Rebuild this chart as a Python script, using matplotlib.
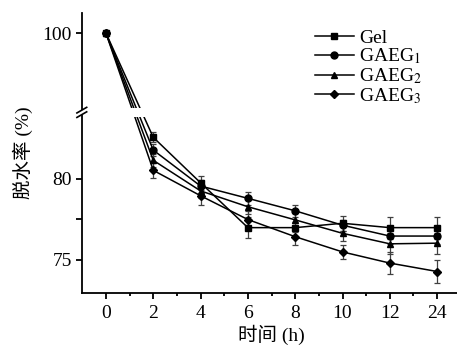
import numpy as np
import matplotlib
matplotlib.use("Agg")
import matplotlib.pyplot as plt
from matplotlib.patches import Rectangle
from matplotlib.lines import Line2D

plt.rcParams['font.family'] = ['Liberation Serif', 'Noto Sans CJK SC']
plt.rcParams['mathtext.fontset'] = 'stix'

# data
times = ['0', '2', '4', '6', '8', '10', '12', '24']
gel = [100, 82.56, 79.75, 76.98, 76.98, 77.25, 76.98, 76.98]
gaeg1 = [100, 81.77, 79.55, 78.79, 78.02, 77.13, 76.46, 76.46]
gaeg2 = [100, 81.14, 79.25, 78.27, 77.46, 76.63, 75.98, 76.02]
gaeg3 = [100, 80.52, 78.95, 77.48, 76.42, 75.48, 74.79, 74.27]
gel_err = [0, 0.3, 0.45, 0.65, 0.3, 0.45, 0.68, 0.68]
gaeg1_err = [0, 0.35, 0.4, 0.4, 0.37, 0.35, 0.5, 0.5]
gaeg2_err = [0, 0.4, 0.45, 0.45, 0.4, 0.45, 0.65, 0.65]
gaeg3_err = [0, 0.47, 0.55, 0.5, 0.52, 0.44, 0.67, 0.68]

labels = ['Gel', 'GAEG$_{1}$', 'GAEG$_{2}$', 'GAEG$_{3}$']
markers = ['s', 'o', '^', 'D']

# broken y axis: skip 84..95
lo_cut, hi_cut = 84.0, 95.0
shift = hi_cut - lo_cut

def fwd(y):
    y = np.asarray(y, dtype=float)
    return np.where(y <= lo_cut, y, np.where(y >= hi_cut, y - shift, lo_cut))

def inv(t):
    t = np.asarray(t, dtype=float)
    return np.where(t <= lo_cut, t, t + shift)

fig = plt.figure(figsize=(4.57, 3.47), dpi=100)
ax = fig.add_axes([0.179, 0.156, 0.821, 0.807])
ax.set_yscale('function', functions=(fwd, inv))

x = np.arange(len(times))
series = [(gel, gel_err), (gaeg1, gaeg1_err), (gaeg2, gaeg2_err), (gaeg3, gaeg3_err)]
handles = []
for (vals, err), lab, m in zip(series, labels, markers):
    ms = 4.5 if m == 'D' else 5
    ax.errorbar(x, vals, yerr=err, color='black', ecolor='0.25', elinewidth=0.9,
                capsize=2.5, capthick=0.9, lw=1.1, marker=m, ms=ms)
    handles.append(Line2D([], [], color='black', lw=1.1, marker=m, ms=ms, label=lab))

ylo, yhi = 72.95, 101.25
ax.set_ylim(ylo, yhi)
ax.set_xlim(-0.51, 7.42)
ax.set_xticks(x)
ax.set_xticklabels(times)
ax.set_xticks(np.arange(0.5, 7, 1), minor=True)
ax.set_yticks([75, 80, 100])
ax.set_yticklabels(['75', '80', '100'])
ax.set_yticks([77.5], minor=True)
ax.yaxis.set_minor_formatter(plt.NullFormatter())

for s in ['top', 'right']:
    ax.spines[s].set_visible(False)
for s in ['left', 'bottom']:
    ax.spines[s].set_linewidth(1.3)
ax.tick_params(axis='both', which='major', direction='out', length=4, width=1.3,
               labelsize=14, pad=3)
ax.tick_params(axis='y', which='minor', direction='out', length=4, width=1.3)
ax.tick_params(axis='x', which='minor', direction='out', length=2, width=1.3)
ax.tick_params(axis='x', which='major', pad=5)

# break marks
t_lo, t_hi = fwd(ylo), fwd(yhi)
fb = (lo_cut + 0.1 - t_lo) / (t_hi - t_lo)
gap = 0.032
ax.add_patch(Rectangle((0.005, fb - gap / 2), 1.0, gap, transform=ax.transAxes,
                       facecolor='white', edgecolor='none', zorder=5, clip_on=False))
ax.add_patch(Rectangle((-0.012, fb - 0.008), 0.024, 0.016, transform=ax.transAxes,
                       facecolor='white', edgecolor='none', zorder=6, clip_on=False))
for dy in (-0.008, 0.008):
    ax.add_line(Line2D([-0.013, 0.013], [fb + dy - 0.01, fb + dy + 0.01],
                       transform=ax.transAxes, color='black', lw=1.2,
                       zorder=7, clip_on=False))

ax.set_xlabel('时间 (h)', fontsize=14)
ax.set_ylabel('脱水率 (%)', fontsize=14)
ax.xaxis.set_label_coords(0.505, -0.112)
ax.yaxis.set_label_coords(-0.13, 0.5)

ax.legend(handles=handles, loc='upper left', bbox_to_anchor=(0.6, 0.97), frameon=False,
          fontsize=14, handlelength=2.0, handletextpad=0.3, labelspacing=0.0,
          borderaxespad=0.0)

fig.savefig('out.png', dpi=100)
